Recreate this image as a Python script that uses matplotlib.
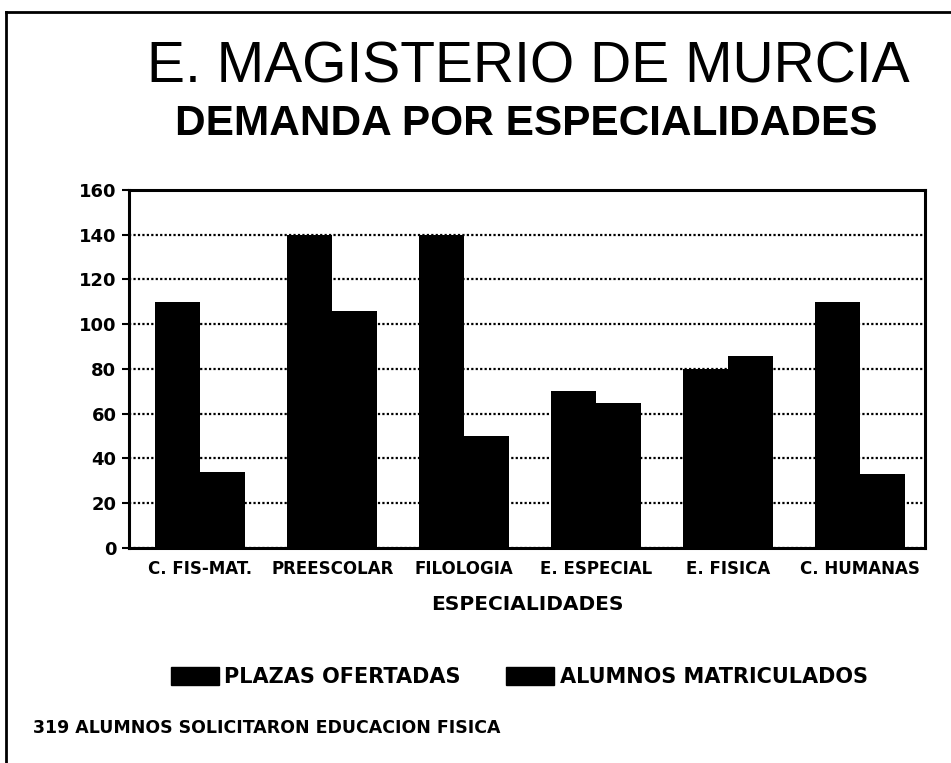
import numpy as np
import matplotlib
matplotlib.use('Agg')
import matplotlib.pyplot as plt
from matplotlib.patches import Patch
from matplotlib.lines import Line2D

categories = ['C. FIS-MAT.', 'PREESCOLAR', 'FILOLOGIA', 'E. ESPECIAL', 'E. FISICA', 'C. HUMANAS']
plazas = [110, 140, 140, 70, 80, 110]
alumnos = [34, 106, 50, 65, 86, 33]
yticks = [0, 20, 40, 60, 80, 100, 120, 140, 160]
series_labels = ['PLAZAS OFERTADAS', 'ALUMNOS MATRICULADOS']

fig = plt.figure(figsize=(9.51, 7.63), dpi=100)
ax = fig.add_axes([0.1356, 0.2818, 0.8371, 0.4692])

x = np.arange(len(categories))
w = 0.34
ax.bar(x - w / 2, plazas, width=w, color='black', zorder=3)
ax.bar(x + w / 2, alumnos, width=w, color='black', zorder=3)

ax.set_xlim(-0.54, 5.49)
ax.set_ylim(0, 160)
ax.set_yticks(yticks)
ax.set_yticklabels([str(v) for v in yticks], fontsize=13, fontweight='bold',
                   family='DejaVu Sans')
ax.set_xticks(x)
ax.set_xticklabels(categories, fontsize=12, fontweight='bold', family='DejaVu Sans')
ax.tick_params(axis='x', length=0, pad=9)
ax.tick_params(axis='y', length=5, width=1.5, pad=4)
ax.yaxis.grid(True, linestyle=(0, (1, 1)), color='black', linewidth=1.6, zorder=0)
for s in ax.spines.values():
    s.set_linewidth(2.2)
    s.set_zorder(4)

ax.set_xlabel('ESPECIALIDADES', fontsize=14.5, fontweight='bold', family='DejaVu Sans',
              labelpad=12)

fig.text(0.556, 0.911, 'E. MAGISTERIO DE MURCIA', ha='center', va='center', fontsize=41,
         family='Liberation Sans')
fig.text(0.553, 0.838, 'DEMANDA POR ESPECIALIDADES', ha='center', va='center', fontsize=30.5,
         fontweight='bold', family='Liberation Sans')

handles = [Patch(facecolor='black', edgecolor='black') for _ in series_labels]
fig.legend(handles, series_labels, loc='center', bbox_to_anchor=(0.546, 1 - 677 / 763),
           ncol=2, frameon=False, handlelength=2.3, handleheight=1.0, handletextpad=0.25,
           columnspacing=2.2, prop={'family': 'DejaVu Sans', 'weight': 'bold', 'size': 15})

fig.text(0.035, 1 - 728 / 763, '319 ALUMNOS SOLICITARON EDUCACION FISICA',
         ha='left', va='center', fontsize=12.5, fontweight='bold', family='DejaVu Sans')

# page frame (left and top edge of the scanned sheet)
fig.add_artist(Line2D([0.006, 0.006], [0.0, 0.984], color='black', linewidth=2,
                      transform=fig.transFigure))
fig.add_artist(Line2D([0.006, 1.0], [0.984, 0.984], color='black', linewidth=2,
                      transform=fig.transFigure))

fig.savefig('out.png', dpi=100, facecolor='white')
